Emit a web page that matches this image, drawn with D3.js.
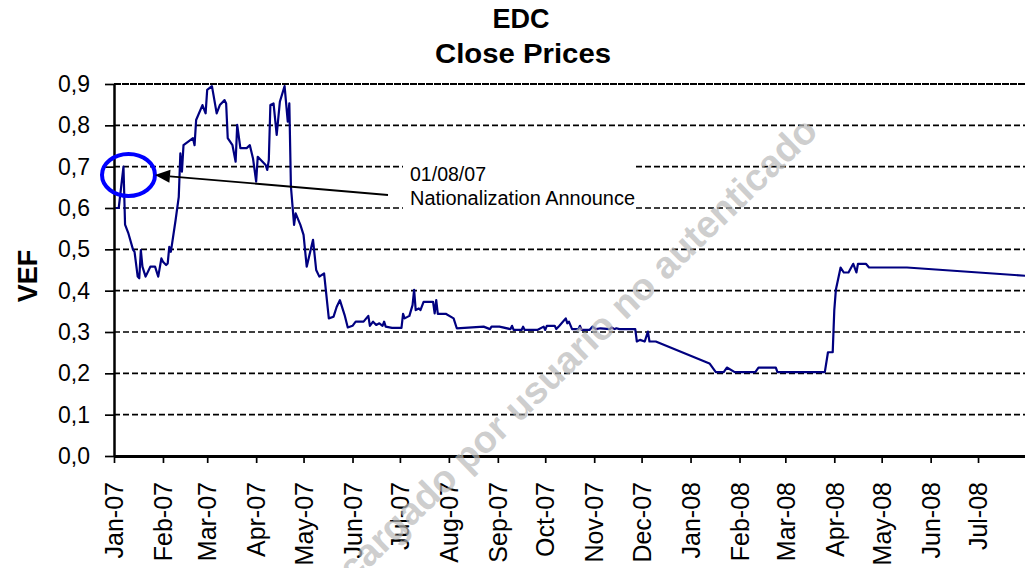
<!DOCTYPE html>
<html>
<head>
<meta charset="utf-8">
<script src="https://cdn.jsdelivr.net/npm/d3@7"></script>
<style>
  body { margin: 0; background: #fff; }
  svg { display: block; font-family: Arial, "Liberation Sans", sans-serif; }
</style>
</head>
<body>
<div id="chart"></div>
<script>
// ---------------------------
// Data
// ---------------------------
const closeDates = [
  "2007-01-02", "2007-01-04", "2007-01-07", "2007-01-08", "2007-01-10", "2007-01-13", "2007-01-14",
  "2007-01-16", "2007-01-17", "2007-01-18", "2007-01-19", "2007-01-21", "2007-01-24", "2007-01-27",
  "2007-01-29", "2007-01-31", "2007-02-01", "2007-02-03", "2007-02-04", "2007-02-05", "2007-02-06",
  "2007-02-09", "2007-02-11", "2007-02-12", "2007-02-13", "2007-02-14", "2007-02-20", "2007-02-21",
  "2007-02-22", "2007-02-26", "2007-02-28", "2007-03-01", "2007-03-04", "2007-03-05", "2007-03-07",
  "2007-03-09", "2007-03-12", "2007-03-13", "2007-03-14", "2007-03-17", "2007-03-19", "2007-03-20",
  "2007-03-22", "2007-03-26", "2007-03-28", "2007-03-30", "2007-04-01", "2007-04-02", "2007-04-07",
  "2007-04-08", "2007-04-09", "2007-04-10", "2007-04-12", "2007-04-14", "2007-04-16", "2007-04-19",
  "2007-04-21", "2007-04-22", "2007-04-23", "2007-04-25", "2007-04-26", "2007-04-29", "2007-05-01",
  "2007-05-03", "2007-05-07", "2007-05-09", "2007-05-11", "2007-05-14", "2007-05-17", "2007-05-20",
  "2007-05-22", "2007-05-24", "2007-05-27", "2007-05-29", "2007-06-01", "2007-06-03", "2007-06-08",
  "2007-06-11", "2007-06-12", "2007-06-14", "2007-06-16", "2007-06-18", "2007-06-20", "2007-06-21",
  "2007-06-22", "2007-06-26", "2007-07-02", "2007-07-03", "2007-07-04", "2007-07-07", "2007-07-09",
  "2007-07-10", "2007-07-11", "2007-07-13", "2007-07-14", "2007-07-16", "2007-07-22", "2007-07-23",
  "2007-07-24", "2007-07-25", "2007-07-30", "2007-08-04", "2007-08-06", "2007-08-23", "2007-08-27",
  "2007-08-28", "2007-09-02", "2007-09-09", "2007-09-10", "2007-09-11", "2007-09-16", "2007-09-17",
  "2007-09-18", "2007-09-26", "2007-09-30", "2007-10-01", "2007-10-02", "2007-10-07", "2007-10-08",
  "2007-10-10", "2007-10-14", "2007-10-15", "2007-10-16", "2007-10-18", "2007-10-22", "2007-10-23",
  "2007-10-24", "2007-10-29", "2007-10-31", "2007-11-02", "2007-11-05", "2007-11-11", "2007-11-12",
  "2007-11-14", "2007-11-15", "2007-11-17", "2007-11-27", "2007-11-28", "2007-11-30", "2007-12-03",
  "2007-12-05", "2007-12-06", "2007-12-10", "2008-01-13", "2008-01-17", "2008-01-22", "2008-01-24",
  "2008-01-29", "2008-02-11", "2008-02-13", "2008-02-24", "2008-02-25", "2008-03-26", "2008-03-28",
  "2008-03-31", "2008-04-01", "2008-04-02", "2008-04-05", "2008-04-07", "2008-04-10", "2008-04-13",
  "2008-04-15", "2008-04-16", "2008-04-21", "2008-04-23", "2008-05-17", "2008-07-31"
];

const closePrices = [
  0.600, 0.600, 0.700, 0.560, 0.540, 0.500, 0.494,
  0.434, 0.430, 0.498, 0.458, 0.434, 0.458, 0.458,
  0.434, 0.478, 0.470, 0.462, 0.466, 0.506, 0.494,
  0.571, 0.627, 0.732, 0.688, 0.752, 0.769, 0.752,
  0.813, 0.849, 0.829, 0.886, 0.895, 0.873, 0.829,
  0.849, 0.861, 0.853, 0.769, 0.752, 0.712, 0.801,
  0.745, 0.745, 0.752, 0.720, 0.664, 0.724, 0.704,
  0.692, 0.716, 0.849, 0.853, 0.777, 0.857, 0.895,
  0.809, 0.853, 0.652, 0.559, 0.587, 0.559, 0.535,
  0.458, 0.523, 0.450, 0.434, 0.442, 0.333, 0.337,
  0.361, 0.377, 0.341, 0.311, 0.315, 0.325, 0.325,
  0.339, 0.315, 0.325, 0.317, 0.321, 0.315, 0.325,
  0.313, 0.310, 0.310, 0.344, 0.333, 0.339, 0.365,
  0.402, 0.353, 0.357, 0.353, 0.373, 0.373, 0.345,
  0.377, 0.344, 0.344, 0.333, 0.309, 0.313, 0.307,
  0.313, 0.313, 0.307, 0.315, 0.305, 0.305, 0.313,
  0.305, 0.305, 0.313, 0.305, 0.315, 0.315, 0.307,
  0.315, 0.333, 0.321, 0.325, 0.307, 0.307, 0.315,
  0.305, 0.305, 0.313, 0.307, 0.309, 0.307, 0.311,
  0.307, 0.309, 0.307, 0.307, 0.277, 0.281, 0.277,
  0.301, 0.277, 0.277, 0.224, 0.203, 0.203, 0.214,
  0.203, 0.203, 0.214, 0.214, 0.203, 0.203, 0.251,
  0.251, 0.353, 0.402, 0.456, 0.444, 0.444, 0.465,
  0.444, 0.465, 0.465, 0.456, 0.456, 0.436
];

const monthTicks = [
  "2007-01", "2007-02", "2007-03", "2007-04", "2007-05", "2007-06", "2007-07", "2007-08",
  "2007-09", "2007-10", "2007-11", "2007-12", "2008-01", "2008-02", "2008-03", "2008-04",
  "2008-05", "2008-06", "2008-07"
];
const yTicks = [0, 0.1, 0.2, 0.3, 0.4, 0.5, 0.6, 0.7, 0.8, 0.9];

const titleLines = ["EDC", "Close Prices"];
const yLabel = "VEF";
const noteLines = ["01/08/07", "Nationalization Announce"];
const watermark = "Descargado por usuario no autenticado";

// ---------------------------
// Setup
// ---------------------------
const width = 1025;
const height = 568;

const parseDay = d3.timeParse("%Y-%m-%d");
const parseMonth = d3.timeParse("%Y-%m");

const points = closeDates.map((d, i) => ({ date: parseDay(d), value: closePrices[i] }));
const tickDates = monthTicks.map(parseMonth);

const x = d3.scaleTime()
  .domain([parseMonth("2007-01"), parseMonth("2008-08")])
  .range([114, 1027]);

const y = d3.scaleLinear()
  .domain([0, 0.9])
  .range([456, 84]);

const svg = d3.select("#chart")
  .append("svg")
  .attr("width", width)
  .attr("height", height)
  .attr("viewBox", [0, 0, width, height]);

svg.append("rect").attr("width", width).attr("height", height).attr("fill", "#fff");

// ---------------------------
// Gridlines
// ---------------------------
svg.append("g")
  .selectAll("line")
  .data(yTicks.filter(v => v > 0))
  .join("line")
  .attr("x1", x.range()[0])
  .attr("x2", x.range()[1])
  .attr("y1", d => y(d))
  .attr("y2", d => y(d))
  .attr("stroke", "#000")
  .attr("stroke-width", d => d === 0.9 ? 2 : 1.7)
  .attr("stroke-dasharray", d => d === 0.9 ? "7,1" : "6,3");

// white box behind the note text
svg.append("rect")
  .attr("x", 403)
  .attr("y", 157)
  .attr("width", 232)
  .attr("height", 56)
  .attr("fill", "#fff");

// ---------------------------
// Price line
// ---------------------------
const line = d3.line()
  .x(d => x(d.date))
  .y(d => y(d.value));

svg.append("path")
  .datum(points)
  .attr("fill", "none")
  .attr("stroke", "#000080")
  .attr("stroke-width", 2.2)
  .attr("stroke-linejoin", "round")
  .attr("d", line);

// ---------------------------
// Axes
// ---------------------------
const commaFormat = v => d3.format(".1f")(v).replace(".", ",");

const yAxis = svg.append("g")
  .attr("transform", `translate(${x.range()[0]},0)`)
  .call(d3.axisLeft(y)
    .tickValues(yTicks)
    .tickFormat(commaFormat)
    .tickSize(9)
    .tickSizeOuter(0)
    .tickPadding(15));

yAxis.select(".domain").attr("stroke", "#000").attr("stroke-width", 2.5);
yAxis.selectAll(".tick line").attr("stroke", "#000").attr("stroke-width", 1.7);
yAxis.selectAll(".tick text")
  .attr("font-family", "Arial, 'Liberation Sans', sans-serif")
  .attr("font-size", 23)
  .attr("fill", "#000");

const xAxis = svg.append("g")
  .attr("transform", `translate(0,${y(0)})`)
  .call(d3.axisBottom(x)
    .tickValues(tickDates)
    .tickFormat(d3.timeFormat("%b-%y"))
    .tickSize(7)
    .tickSizeOuter(0));

xAxis.select(".domain").attr("stroke", "#000").attr("stroke-width", 3);
xAxis.selectAll(".tick line").attr("stroke", "#000").attr("stroke-width", 1.7);
xAxis.selectAll(".tick text")
  .attr("font-family", "Arial, 'Liberation Sans', sans-serif")
  .attr("font-size", 25)
  .attr("fill", "#000")
  .attr("text-anchor", "end")
  .attr("transform", "translate(0,26) rotate(-90)")
  .attr("x", 0)
  .attr("y", 0)
  .attr("dy", "0.35em");

// ---------------------------
// Titles
// ---------------------------
svg.append("text")
  .attr("x", 521)
  .attr("y", 28)
  .attr("text-anchor", "middle")
  .attr("font-size", 27)
  .attr("font-weight", "bold")
  .text(titleLines[0]);

svg.append("text")
  .attr("x", 523)
  .attr("y", 63)
  .attr("text-anchor", "middle")
  .attr("font-size", 27)
  .attr("font-weight", "bold")
  .attr("textLength", 176)
  .attr("lengthAdjust", "spacingAndGlyphs")
  .text(titleLines[1]);

svg.append("text")
  .attr("transform", "translate(37,276) rotate(-90)")
  .attr("text-anchor", "middle")
  .attr("font-size", 27)
  .attr("font-weight", "bold")
  .text(yLabel);

// ---------------------------
// Annotation
// ---------------------------
svg.append("ellipse")
  .attr("cx", 128.5)
  .attr("cy", 175)
  .attr("rx", 26.5)
  .attr("ry", 21)
  .attr("fill", "none")
  .attr("stroke", "#0000ff")
  .attr("stroke-width", 4);

const tip = [155, 175];
const tail = [388, 195];
const len = Math.hypot(tail[0] - tip[0], tail[1] - tip[1]);
const ux = (tail[0] - tip[0]) / len;
const uy = (tail[1] - tip[1]) / len;
const headLen = 15;
const headHalf = 6.5;
const base = [tip[0] + ux * headLen, tip[1] + uy * headLen];

svg.append("line")
  .attr("x1", tail[0])
  .attr("y1", tail[1])
  .attr("x2", base[0])
  .attr("y2", base[1])
  .attr("stroke", "#000")
  .attr("stroke-width", 1.8);

svg.append("polygon")
  .attr("points", [
    tip,
    [base[0] - uy * headHalf, base[1] + ux * headHalf],
    [base[0] + uy * headHalf, base[1] - ux * headHalf]
  ].map(p => p.join(",")).join(" "))
  .attr("fill", "#000");

svg.append("text")
  .attr("x", 410)
  .attr("y", 181)
  .attr("font-size", 20)
  .attr("textLength", 76)
  .attr("lengthAdjust", "spacingAndGlyphs")
  .text(noteLines[0]);

svg.append("text")
  .attr("x", 410)
  .attr("y", 205)
  .attr("font-size", 20)
  .attr("textLength", 225)
  .attr("lengthAdjust", "spacingAndGlyphs")
  .text(noteLines[1]);

// ---------------------------
// Watermark
// ---------------------------
svg.append("text")
  .attr("transform", "translate(554,375) rotate(-44)")
  .attr("text-anchor", "middle")
  .attr("dy", "0.28em")
  .attr("font-size", 38)
  .attr("font-weight", "bold")
  .attr("fill", "#b8b8b8")
  .attr("fill-opacity", 0.7)
  .attr("textLength", 718)
  .attr("lengthAdjust", "spacingAndGlyphs")
  .text(watermark);
</script>
</body>
</html>
